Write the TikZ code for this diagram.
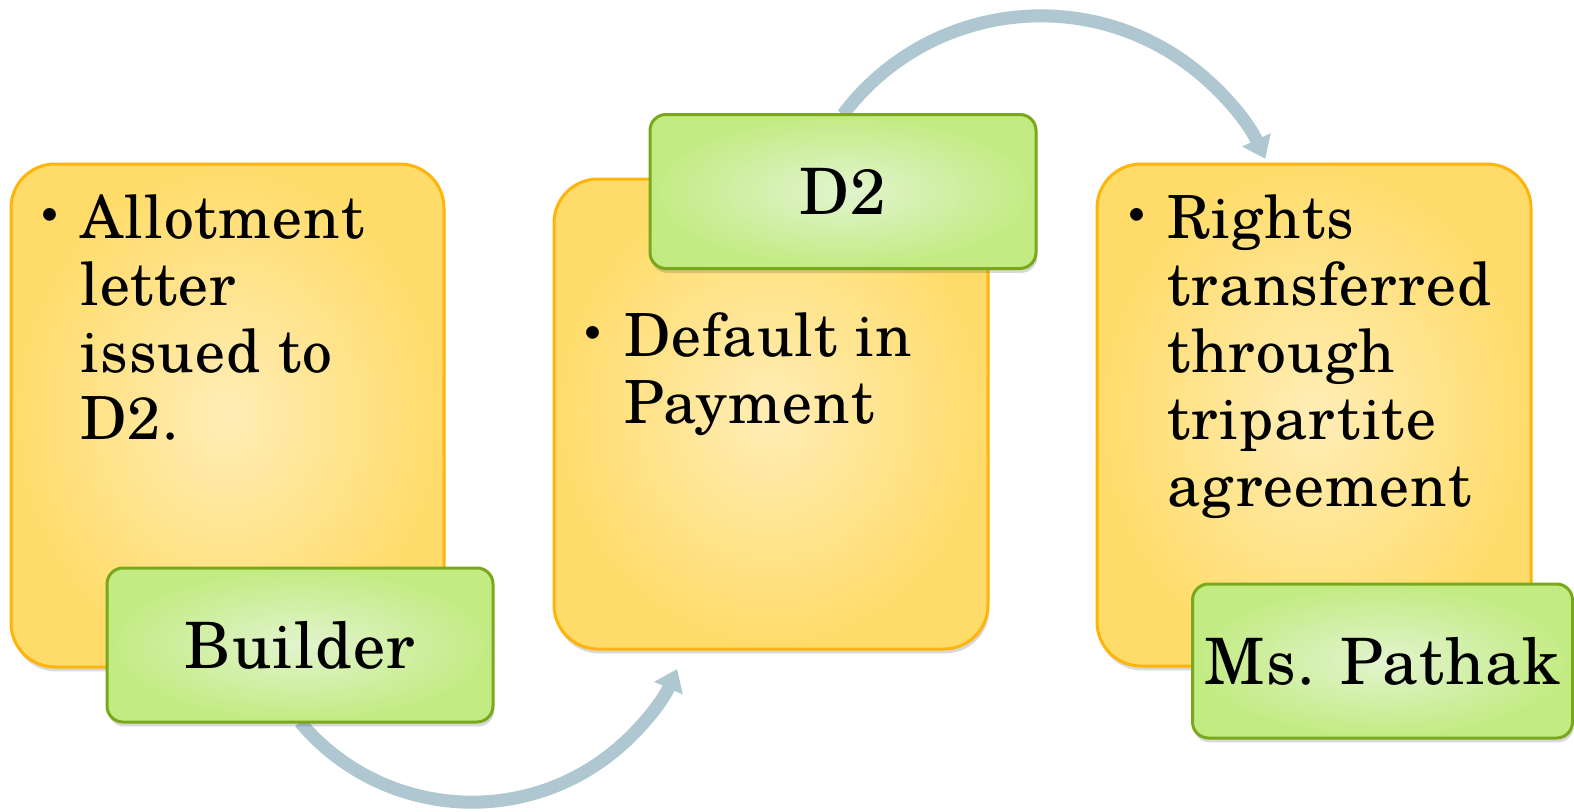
\documentclass[tikz,border=0pt]{standalone}
\usepackage{fontspec}
\setmainfont{TeX Gyre Schola}[LetterSpace=2]
\usetikzlibrary{arrows.meta,shadows,backgrounds}

\definecolor{noteIn}{RGB}{255,237,182}
\definecolor{noteOut}{RGB}{255,220,106}
\definecolor{noteLine}{RGB}{255,180,10}
\definecolor{tagIn}{RGB}{226,244,206}
\definecolor{tagOut}{RGB}{194,235,130}
\definecolor{tagLine}{RGB}{122,168,28}
\definecolor{flowBlue}{RGB}{174,199,209}

\tikzset{
  softshadow/.style={drop shadow={shadow xshift=0.6pt, shadow yshift=-2.2pt, opacity=0.22, fill=black!70}},
  note/.style={rectangle, rounded corners=22pt, draw=noteLine, line width=1.5pt,
    inner color=noteIn, outer color=noteOut, inner sep=0pt, outer sep=0pt, softshadow},
  tag/.style={rectangle, rounded corners=8pt, draw=tagLine, line width=1.5pt,
    inner color=tagIn, outer color=tagOut, inner sep=0pt, outer sep=0pt,
    minimum height=77pt, font=\fontsize{32}{38}\selectfont, softshadow},
  bodytext/.style={inner sep=0pt, anchor=base west, font=\fontsize{29.75}{33.5}\selectfont},
  dot/.style={inner sep=0pt, anchor=base, font=\fontsize{19}{20}\selectfont},
  flow/.style={draw=flowBlue, line width=6.5pt, -{Triangle[width=15pt,length=10.5pt]}}
}

\begin{document}
\begin{tikzpicture}[x=0.5pt,y=0.5pt]
\useasboundingbox (0,0) rectangle (1574,811);

% three note cards
\node[note, minimum width=216.5pt, minimum height=251.5pt] (card1) at (227.5,395.5) {};
\node[note, minimum width=217pt, minimum height=235pt] (card2) at (771,397) {};
\node[note, minimum width=217pt, minimum height=251pt] (card3) at (1314,396) {};

% green name tags
\node[tag, minimum width=193pt] (builder) at (300,166) {Builder};
\node[tag, minimum width=193pt] (d2) at (843,619.5) {D2};
\node[tag, minimum width=190pt] (pathak) at (1382.5,150) {Ms. Pathak};

% bullet texts
\node[dot] (b1) at (50,582) {\textbullet};
\node[bodytext] (t1) at (80,573) {\parbox[t]{160pt}{\raggedright Allotment\\ letter\\ issued to\\ D2.}};

\node[dot] (b2) at (593,464) {\textbullet};
\node[bodytext] (t2) at (624,455) {\parbox[t]{160pt}{\raggedright Default in\\ Payment}};

\node[dot] (b3) at (1137,582) {\textbullet};
\node[bodytext] (t3) at (1167,573) {\parbox[t]{175pt}{\raggedright Rights\\ transferred\\ through\\ tripartite\\ agreement}};

% curved flow arrows behind the cards
\begin{pgfonlayer}{background}
  \draw[flow] (builder.south) arc[start angle=220, end angle=336, radius=224.5];
  \draw[flow] (d2.north) arc[start angle=143, end angle=25, radius=247.7];
\end{pgfonlayer}
\end{tikzpicture}
\end{document}
